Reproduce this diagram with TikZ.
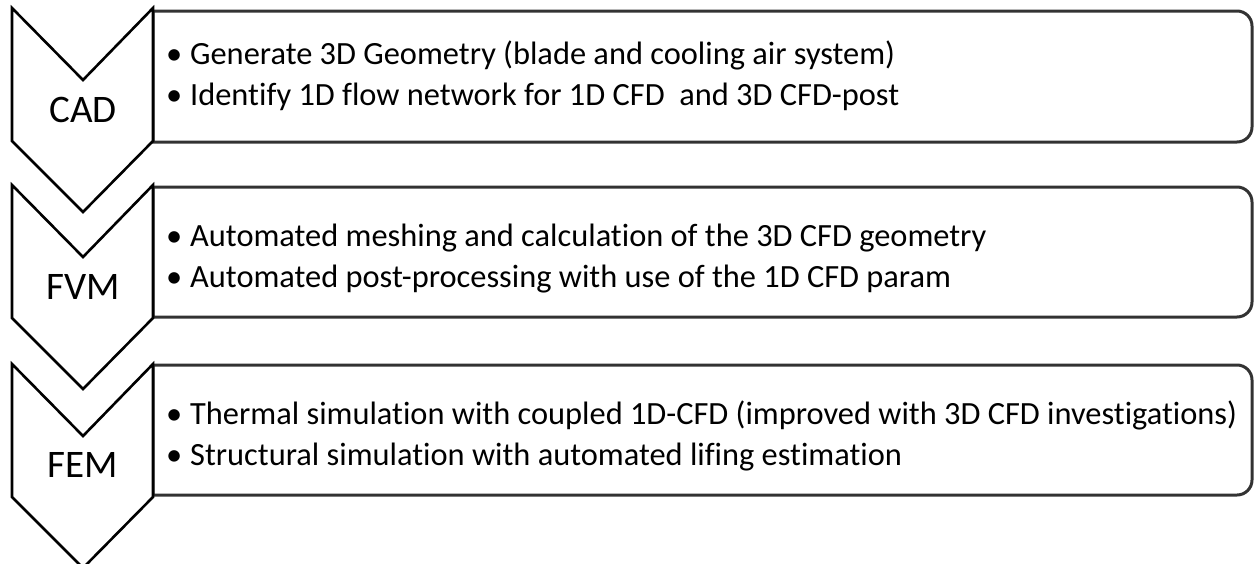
\documentclass[tikz,border=0pt]{standalone}
\usepackage{fontspec}
\setmainfont{Carlito}[Ligatures={NoCommon}]
\newcommand{\bul}{\llap{\textbullet\hspace{8pt}}}
\begin{document}
\begin{tikzpicture}[x=1pt,y=-1pt,
  chev/.style={draw=black,line width=2.6pt,fill=white,line join=miter},
  panel/.style={draw=black!80,line width=3pt,fill=white},
  lbl/.style={font=\fontsize{39}{44}\selectfont,inner sep=0pt},
  item/.style={font=\fontsize{32.4}{38}\selectfont,anchor=base west,inner sep=0pt}]
\useasboundingbox (0,0) rectangle (1254,563);
% panels
\foreach \t/\b in {11/142,187/317,365/495}{
  \draw[panel] (153,\b) -- (153,\t) -- (1237,\t) arc[start angle=-90,end angle=0,radius=15]
    -- (1252,\b-15) arc[start angle=0,end angle=90,radius=15] -- cycle;
}
% chevrons
\foreach \t in {8,185,364}{
  \draw[chev] (12,\t) -- (83,\t+72) -- (153,\t) -- (153,\t+133) -- (83,\t+204) -- (12,\t+133) -- cycle;
}
\node[lbl] (cad) at (83,110) {CAD};
\node[lbl] (fvm) at (83,287) {FVM};
\node[lbl] (fem) at (83,465) {FEM};
\node[item] (a1) at (190,64) {\bul Generate 3D Geometry (blade and cooling air system)};
\node[item] (a2) at (190,105) {\bul Identify 1D flow network for 1D CFD\ \ and 3D CFD-post};
\node[item] (b1) at (190,246) {\bul Automated meshing and calculation of the 3D CFD geometry};
\node[item] (b2) at (190,287) {\bul Automated post-processing with use of the 1D CFD param};
\node[item] (c1) at (190,424) {\bul Thermal simulation with coupled 1D-CFD (improved with 3D CFD investigations)};
\node[item] (c2) at (190,465) {\bul Structural simulation with automated lifing estimation};
\end{tikzpicture}
\end{document}
